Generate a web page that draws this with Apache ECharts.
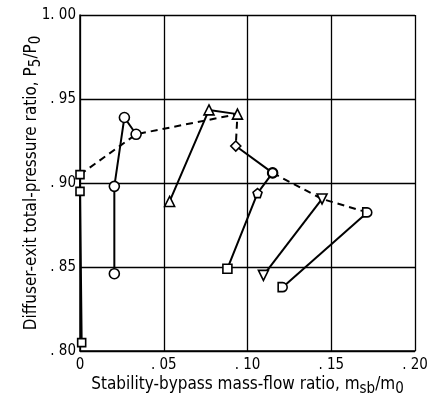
<!DOCTYPE html>
<html>
<head>
<meta charset="utf-8">
<script src="https://cdn.jsdelivr.net/npm/echarts@6/dist/echarts.min.js"></script>
<style>
html,body{margin:0;padding:0;background:#fff;}
#c{width:427px;height:401px;}
</style>
</head>
<body>
<div id="c"></div>
<script>
// ---- data ----
const xTickLabels = ['0', '. 05', '. 10', '. 15', '. 20'];
const yTickLabels = ['. 80', '. 85', '. 90', '. 95', '1. 00'];

const squaresAtZero = [[0.0, 0.905], [0.0, 0.895], [0.001, 0.805]];
const circlesLow = [[0.0205, 0.846], [0.0205, 0.898], [0.0265, 0.939], [0.0335, 0.929]];
const trianglesUp = [[0.0535, 0.889], [0.077, 0.9435], [0.094, 0.941]];
const diamondLine = [[0.093, 0.922], [0.115, 0.906]];
const squareMid = [[0.088, 0.849], [0.106, 0.894], [0.115, 0.906]];
const trianglesDown = [[0.1095, 0.845], [0.1445, 0.8905]];
const halfDisc = [[0.121, 0.838], [0.1715, 0.8825]];
const envelopeA = [[0.0, 0.905], [0.0335, 0.929], [0.094, 0.941], [0.093, 0.922]];
const envelopeB = [[0.115, 0.906], [0.1445, 0.8905], [0.1715, 0.8825]];

const FONT = "'Liberation Sans Narrow','DejaVu Sans Condensed','Roboto',sans-serif";
const SYM = {
  square: 'rect',
  circle: 'circle',
  triUp: 'triangle',
  triDown: 'path://M0,0 L10,0 L5,9 Z',
  diamond: 'diamond',
  pent: 'path://M5,0 L10,4 L8,10 L2,10 L0,4 Z',
  dee: 'path://M0,0 L5,0 A5,5 0 0 1 5,10 L0,10 Z'
};

const chart = echarts.init(document.getElementById('c'), null, {renderer: 'canvas'});

function mk(data, symbols, size, dashed, z) {
  return {
    type: 'line',
    data: data.map((p, i) => symbols ? {value: p, symbol: symbols[i]} : {value: p}),
    showSymbol: !!symbols,
    symbol: 'none',
    symbolSize: size || 9,
    z: z || 3,
    lineStyle: {color: '#000', width: 2, type: dashed ? [7, 5] : 'solid'},
    itemStyle: {color: '#fff', borderColor: '#000', borderWidth: 1.6},
    animation: false,
    silent: true
  };
}

const toLabel = (arr, min, step) => v => {
  const i = Math.round((v - min) / step);
  return arr[i] !== undefined ? arr[i] : '';
};

const option = {
  backgroundColor: '#fff',
  animation: false,
  grid: {left: 80, right: 12, top: 15, bottom: 50, containLabel: false, outerBoundsMode: 'none'},
  xAxis: {
    type: 'value', min: 0, max: 0.20, interval: 0.05,
    axisLine: {show: true, onZero: false, lineStyle: {color: '#000', width: 1.5}},
    axisTick: {show: false},
    splitLine: {show: true, lineStyle: {color: '#000', width: 1.3}},
    axisLabel: {formatter: toLabel(xTickLabels, 0, 0.05), color: '#000', fontFamily: FONT, fontSize: 15, margin: 7},
    name: 'Stability-bypass mass-flow ratio, m{s|sb}/m{s|0}',
    nameLocation: 'middle', nameGap: 21, nameMoveOverlap: false,
    nameTextStyle: {color: '#000', fontFamily: FONT, fontSize: 17,
      rich: {s: {fontFamily: FONT, fontSize: 15, color: '#000', padding: [10, 0, 0, 0]}}}
  },
  yAxis: {
    type: 'value', min: 0.80, max: 1.00, interval: 0.05,
    axisLine: {show: true, onZero: false, lineStyle: {color: '#000', width: 1.5}},
    axisTick: {show: false},
    splitLine: {show: true, lineStyle: {color: '#000', width: 1.3}},
    axisLabel: {formatter: toLabel(yTickLabels, 0.80, 0.05), color: '#000', fontFamily: FONT, fontSize: 15, margin: 4},
    name: 'Diffuser-exit total-pressure ratio, P{s|5}/P{s|0}',
    nameLocation: 'middle', nameGap: 36, nameRotate: 90, nameMoveOverlap: false,
    nameTextStyle: {color: '#000', fontFamily: FONT, fontSize: 17,
      rich: {s: {fontFamily: FONT, fontSize: 15, color: '#000', padding: [10, 0, 0, 0]}}}
  },
  series: [
    mk(envelopeA, null, 9, true, 1),
    mk(envelopeB, null, 9, true, 1),
    mk(squaresAtZero, [SYM.square, SYM.square, SYM.square], 8),
    mk(circlesLow, [SYM.circle, SYM.circle, SYM.circle, SYM.circle], 10),
    mk(trianglesUp, [SYM.triUp, SYM.triUp, SYM.triUp], 10),
    mk(diamondLine, [SYM.diamond, SYM.circle], 10),
    mk(squareMid, [SYM.square, SYM.pent, SYM.circle], 9),
    mk(trianglesDown, [SYM.triDown, SYM.triDown], 10),
    mk(halfDisc, [SYM.dee, SYM.dee], 9)
  ]
};
chart.setOption(option);
</script>
</body>
</html>
